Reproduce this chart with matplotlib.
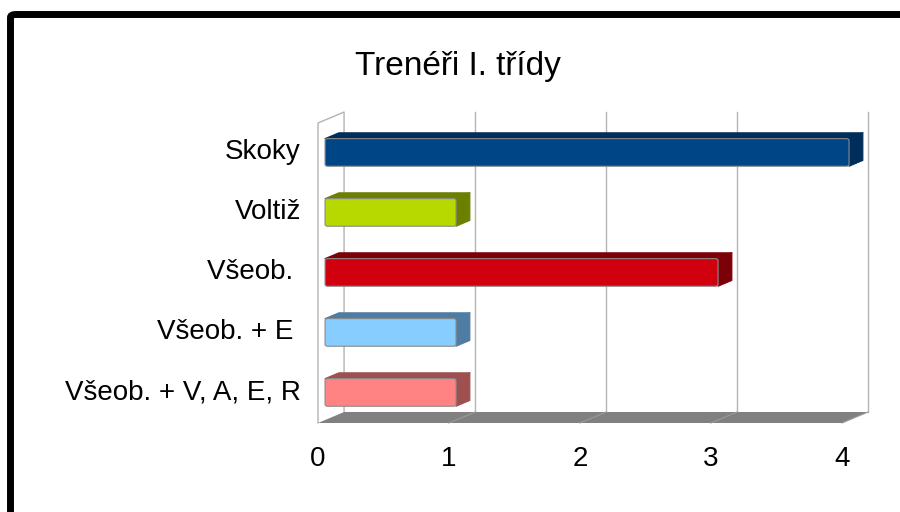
import matplotlib
matplotlib.use("Agg")
import matplotlib.pyplot as plt
from matplotlib.patches import Polygon, FancyBboxPatch
from matplotlib.lines import Line2D

plt.rcParams['font.family'] = ['Liberation Sans', 'DejaVu Sans']

title = "Trenéři I. třídy"
categories = ["Skoky", "Voltiž", "Všeob. ", "Všeob. + E ", "Všeob. + V, A, E, R"]
values = [4, 1, 3, 1, 1]
face_colors = ["#004586", "#b8d900", "#d0000e", "#87cdff", "#ff8383"]
side_colors = ["#002e5a", "#6c8000", "#7c0008", "#4f7ca3", "#9e4f4f"]
ticks = [0, 1, 2, 3, 4]

# 3D depth of the whole plot, in data units (value, category)
DX, DY = 0.199, 0.183
# bar sits between these depth fractions
F0, F1 = 0.27, 0.80
BAR_H = 0.46
BAR_SHIFT = -0.04

fig = plt.figure(figsize=(9, 5.12), dpi=100)
ax = fig.add_axes([318 / 900, (512 - 423) / 512, 524 / 900, 300 / 512])
ax.set_xlim(0, 4)
ax.set_ylim(-0.5, 4.5)
ax.axis("off")

n = len(categories)
ytop, ybot = n - 0.5, -0.5

# floor
ax.add_patch(Polygon([(0, ybot), (4, ybot), (4 + DX, ybot + DY), (DX, ybot + DY)],
                     closed=True, fc="#808080", ec="none", zorder=1, clip_on=False))
for t in ticks[1:]:
    ax.add_line(Line2D([t, t + DX], [ybot, ybot + DY], color="#9a9a9a", lw=0.8,
                       zorder=1.5, clip_on=False))

# left wall and back grid
ax.add_line(Line2D([0, 0, DX, DX], [ybot, ytop, ytop + DY, ybot + DY],
                   color="#b3b3b3", lw=1, zorder=0.5, clip_on=False))
for t in ticks[1:]:
    ax.add_line(Line2D([t + DX, t + DX], [ybot + DY, ytop + DY], color="#b3b3b3",
                       lw=1, zorder=0.5, clip_on=False))

# bars
for i, (v, fc, sc) in enumerate(zip(values, face_colors, side_colors)):
    yc = n - 1 - i
    x0 = F0 * DX
    y0 = yc - BAR_H / 2 + F0 * DY + BAR_SHIFT
    x1 = x0 + v
    y1 = y0 + BAR_H
    ddx = (F1 - F0) * DX
    ddy = (F1 - F0) * DY
    top = [(x0, y1), (x1, y1), (x1 + ddx, y1 + ddy), (x0 + ddx, y1 + ddy)]
    side = [(x1, y1), (x1, y0), (x1 + ddx, y0 + ddy), (x1 + ddx, y1 + ddy)]
    ax.add_patch(Polygon(top, closed=True, fc=sc, ec=sc, lw=0.8, joinstyle="round",
                         zorder=3, clip_on=False))
    ax.add_patch(Polygon(side, closed=True, fc=sc, ec=sc, lw=0.8, joinstyle="round",
                         zorder=3, clip_on=False))
    ax.add_patch(FancyBboxPatch((x0, y0), v, BAR_H, boxstyle="round,pad=0,rounding_size=0.02",
                                mutation_aspect=1.5, fc=fc, ec="#8a8a8a", lw=0.8,
                                zorder=4, clip_on=False))
    ax.text(-0.13, y0 + BAR_H / 2, categories[i], ha="right", va="center",
            fontsize=20, color="black")

for t in ticks:
    ax.text(t, -1.1, str(t), ha="center", va="center", fontsize=20, color="black")

fig.text(458 / 900, 1 - 67 / 512, title, ha="center", va="center", fontsize=24)

# outer frame (runs off the right and bottom edges)
fig.patches.append(FancyBboxPatch((10.5 / 900, -0.2), 1.2, 1 - 14.5 / 512 + 0.2,
                                  boxstyle="round,pad=0,rounding_size=0.006",
                                  transform=fig.transFigure, fc="none", ec="black",
                                  lw=5, zorder=10))

fig.savefig("out.png", dpi=100)
